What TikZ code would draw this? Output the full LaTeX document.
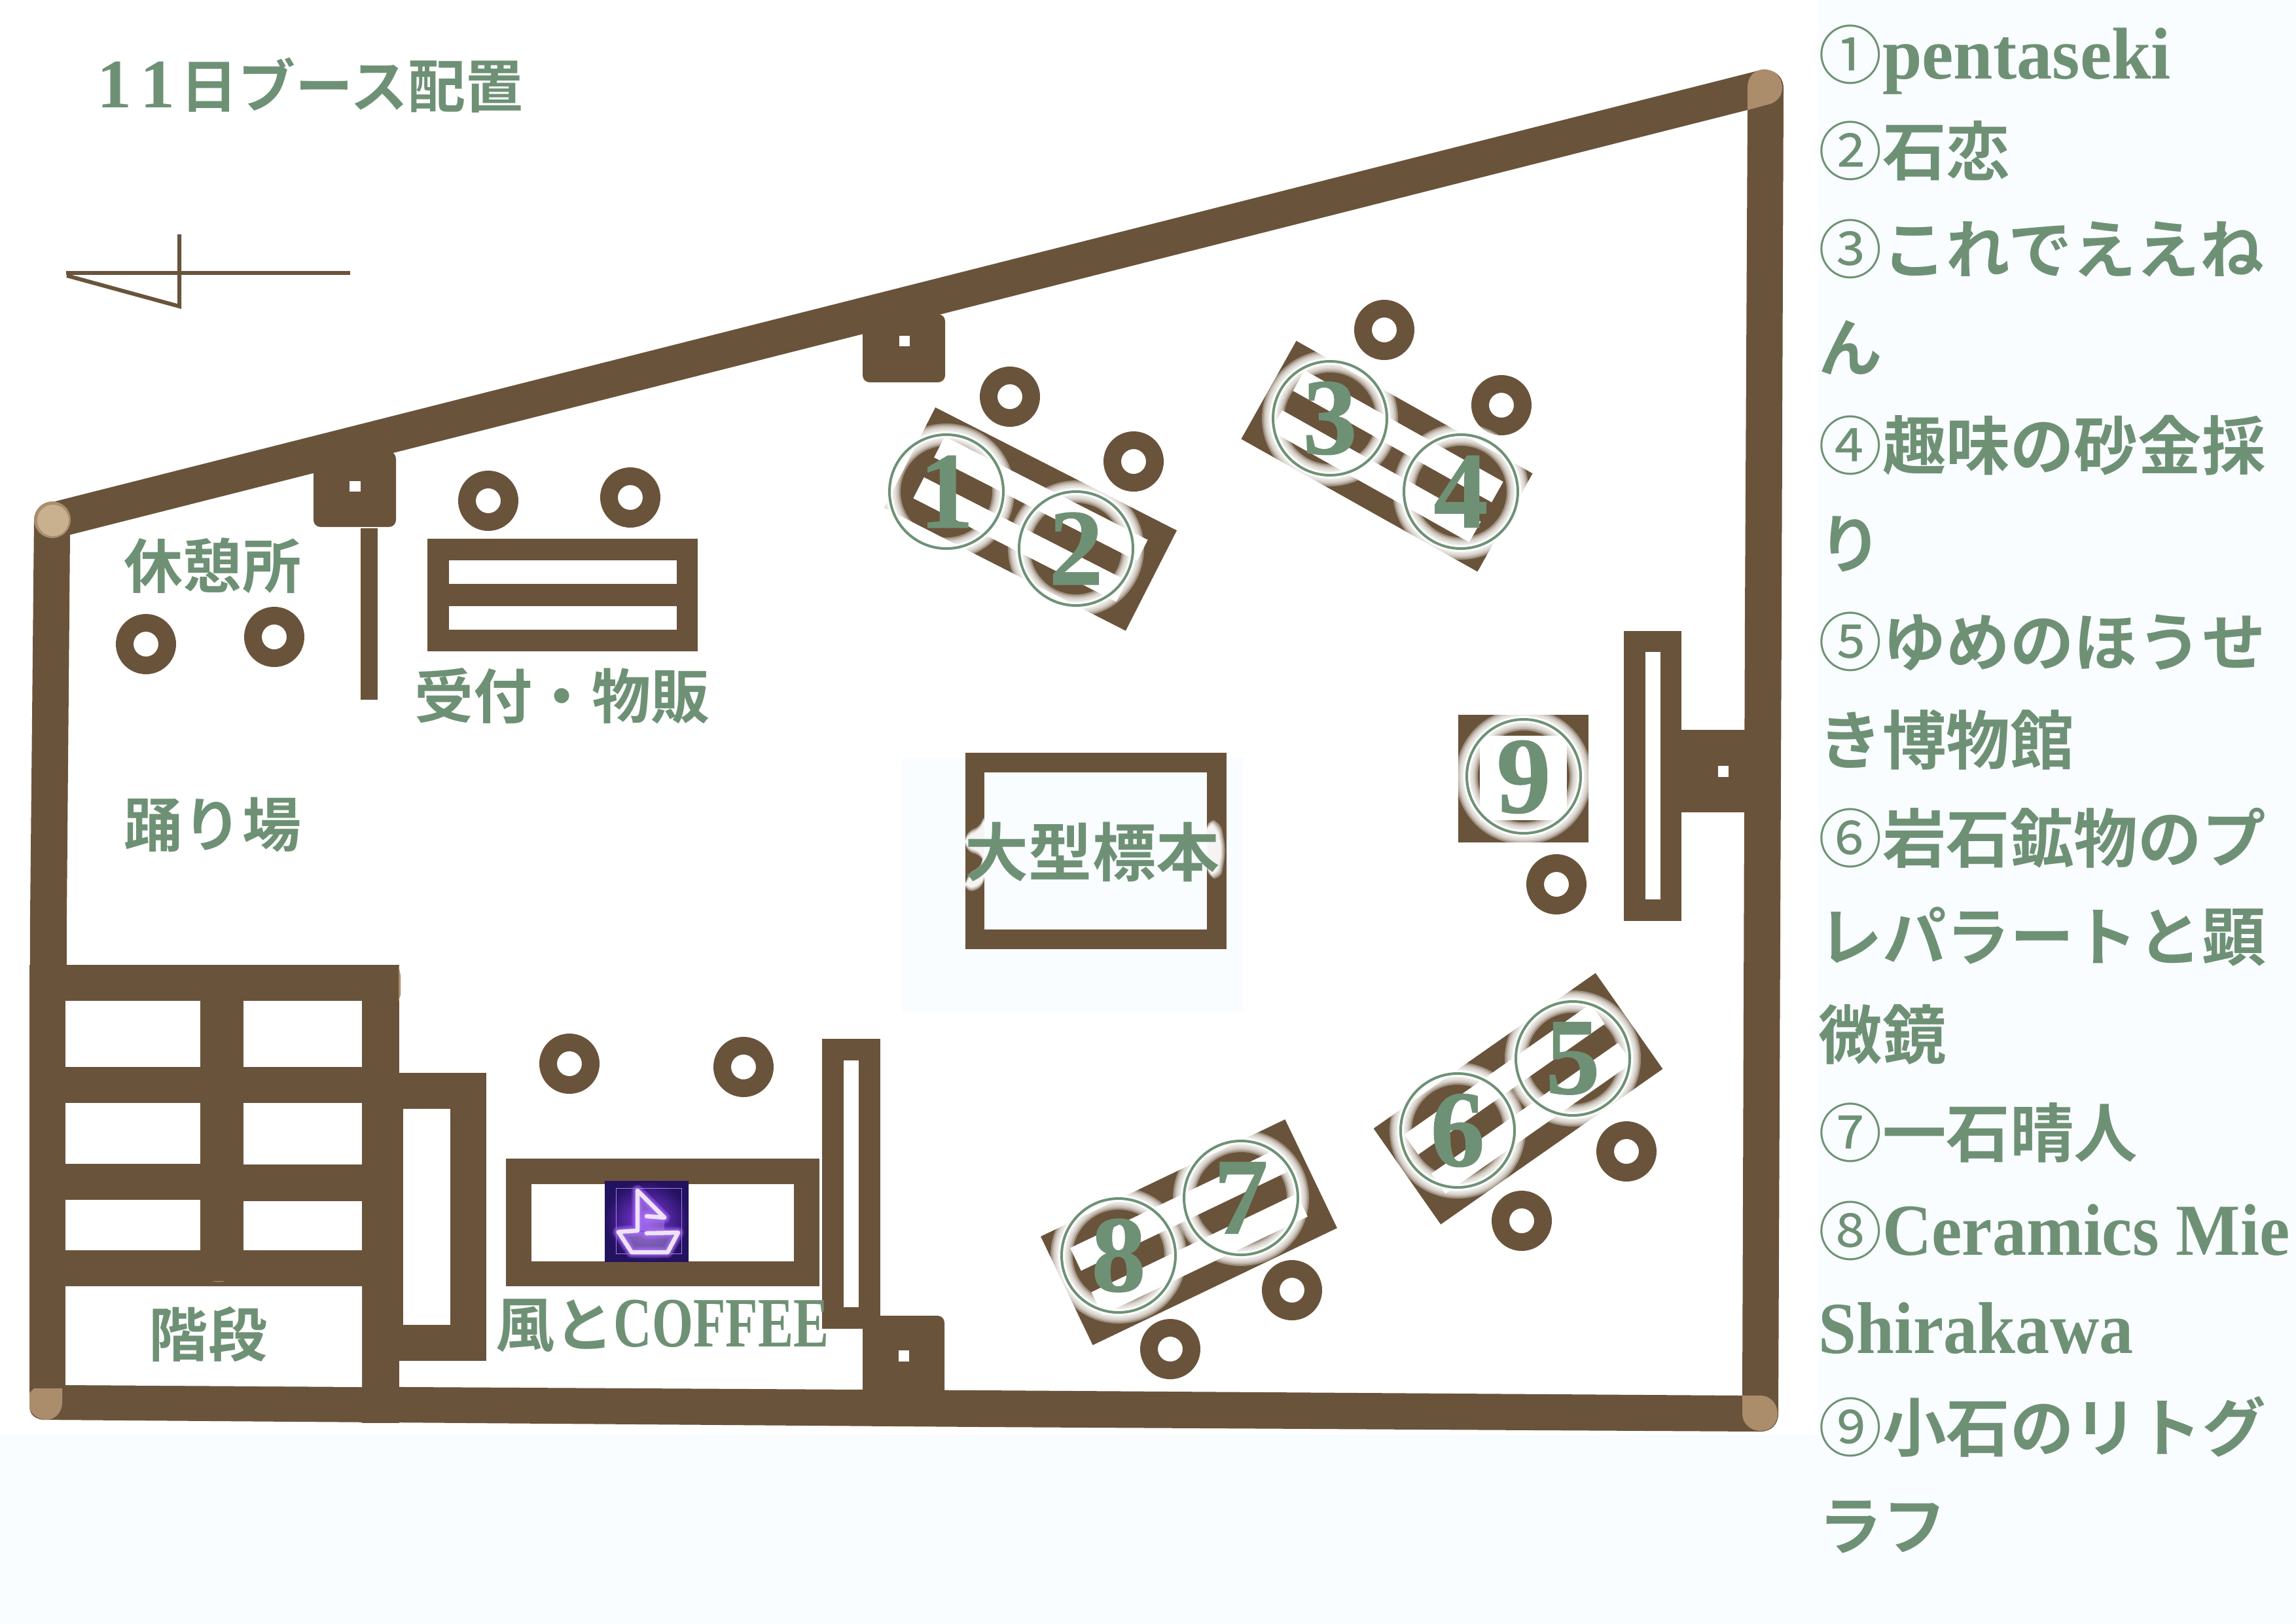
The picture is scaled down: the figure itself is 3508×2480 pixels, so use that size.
\documentclass[tikz,border=0pt]{standalone}
\usepackage{fontspec}
\setmainfont{Liberation Serif}
\newfontfamily\cjk{Noto Sans CJK JP}[BoldFont={* Bold}]
\newfontfamily\cjkm{Noto Sans CJK JP}
\newfontfamily\lat{Liberation Serif}[BoldFont={* Bold}]
\newfontfamily\latd{Liberation Serif}[BoldFont={* Bold},BoldFeatures={FakeBold=0.8}]
\newfontfamily\lata{Liberation Serif}[BoldFont={* Bold},FakeStretch=.97]
\newfontfamily\latn{Liberation Serif}[BoldFont={* Bold},FakeStretch=.93]
\newfontfamily\latc{Liberation Serif}[BoldFont={* Bold},FakeStretch=.75]
\definecolor{wall}{HTML}{6A533B}
\definecolor{tanA}{HTML}{AB8D6C}
\definecolor{tanB}{HTML}{C9B08E}
\definecolor{sage}{HTML}{6E9175}
\definecolor{tint}{HTML}{FAFDFF}
\definecolor{logoIn}{RGB}{135,60,235}
\definecolor{logoOut}{RGB}{35,18,95}
\definecolor{logoGlow}{RGB}{175,110,255}
\definecolor{logoLine}{RGB}{238,228,245}
\definecolor{logoFrame}{RGB}{170,120,240}
% 1px = 0.01cm = 0.28453pt
\newcommand{\pxfont}[1]{\fontsize{\the\dimexpr #1\dimexpr 0.28453pt\relax\relax}{\the\dimexpr #1\dimexpr 0.34pt\relax\relax}\selectfont}
\tikzset{
  x=0.01cm,y=-0.01cm,
  lbl/.style={text=sage,inner sep=0pt,font=\cjk\bfseries\pxfont{90}},
  listline/.style={text=sage,inner sep=0pt,anchor=base west,font=\cjk\bfseries\pxfont{97.5}},
  marker/.style={text=sage,inner sep=0pt,font=\latd\bfseries\pxfont{166}}
}
\newcommand{\stool}[2]{\fill[wall,even odd rule] (#1,#2) circle[radius=46] (#1,#2) circle[radius=19];}
% centre x, centre y, canvas rotation, y stretch
\newcommand{\booth}[4]{\begin{scope}[shift={(#1,#2)},rotate=#3,yscale=#4]
  \fill[wall] (-207,-86) rectangle (207,86);
  \fill[white] (-174,-53) rectangle (174,-17);
  \fill[white] (-174,17) rectangle (174,53);
\end{scope}}
\newcommand{\glowring}[2]{
  \foreach \w in {34,29,24,19,14}{\draw[white,opacity=.35,line width=\w*0.01cm] (#1,#2) circle[radius=87];}
  \draw[white,line width=0.1cm] (#1,#2) circle[radius=87];
  \draw[sage,line width=0.04cm] (#1,#2) circle[radius=87];
}
\begin{document}
\begin{tikzpicture}
\useasboundingbox (0,0) rectangle (3508,2480);
\fill[white] (0,0) rectangle (3508,2480);
% tinted panels
\fill[tint] (2777,0) rectangle (3508,2480);
\fill[tint] (0,2192) rectangle (3508,2480);
\fill[tint] (1378,1157) rectangle (1900,1547);
% north sign
\draw[wall,line width=0.06cm] (101,417) -- (535,417);
\draw[wall,line width=0.06cm,miter limit=10] (102,421) -- (274,468) -- (274,358);
% title
\node[lbl,font=\cjk\bfseries\pxfont{88}] (title) at (474,130) {{\lat\bfseries\pxfont{106}1\hspace{.12em}1\hspace{.08em}}日ブース配置};
% walls (outer outline, inner outline)
\fill[wall,even odd rule]
  (52,795) .. controls (52,780) and (65,770) .. (80,767) -- (2690,107)
  .. controls (2708,104) and (2725,115) .. (2725,135) -- (2722,940) -- (2717,2160)
  .. controls (2717,2176) and (2706,2187) .. (2690,2187) -- (1500,2180) -- (65,2169)
  .. controls (52,2167) and (45,2160) .. (45,2148) -- (46,1400) -- cycle
  (107,817) -- (2670,168) -- (2666,940) -- (2662,2132) -- (1500,2124) -- (100,2116) -- (102,1400) -- cycle;
\fill[wall] (553,2100) rectangle (610,2174);
% corner posts
\fill[tanA] (80,794) circle[radius=28];
\fill[tanB] (81,795) circle[radius=24];
\fill[tanA] (2670,168) -- (2670,133) .. controls (2670,118) and (2680,106) .. (2695,106)
  .. controls (2712,106) and (2723,118) .. (2723,135) .. controls (2723,148) and (2712,158) .. (2700,160) -- cycle;
\fill[tanA] (2662,2132) -- (2690,2132) .. controls (2705,2132) and (2716,2145) .. (2716,2160)
  .. controls (2716,2175) and (2705,2186) .. (2690,2186) .. controls (2675,2186) and (2662,2175) .. (2662,2160) -- cycle;
\fill[tanA] (45,2128) -- (52,2121) -- (95,2121) -- (95,2143) .. controls (95,2158) and (84,2169) .. (70,2169)
  .. controls (58,2169) and (45,2158) .. (45,2150) -- cycle;
% pillars
\fill[wall,rounded corners=3] (479,690) rectangle (605,805);
\fill[white] (534,735) rectangle (551,751);
\fill[wall,rounded corners=3] (1318,480) rectangle (1444,584);
\fill[white] (1374,513) rectangle (1390,529);
\fill[wall] (2568,1115) rectangle (2680,1241);
\fill[white] (2625,1170) rectangle (2641,1187);
\fill[wall,rounded corners=3] (1318,2010) rectangle (1443,2140);
\fill[white] (1373,2063) rectangle (1389,2080);
% partitions
\fill[wall] (551,807) rectangle (577,1069);
\fill[wall] (2481,964) rectangle (2569,1407);
\fill[white] (2514,996) rectangle (2537,1374);
\fill[wall] (1256,1587) rectangle (1345,2030);
\fill[white] (1289,1620) rectangle (1312,1997);
% stairs block
\fill[wall] (45,1474) rectangle (610,2120);
\fill[tanA] (609,1474) -- (612,1490) -- (612,1520) -- (609,1530) -- cycle;
\fill[white] (100,1529) rectangle (306,1630);
\fill[white] (372,1529) rectangle (553,1630);
\fill[white] (100,1685) rectangle (306,1778);
\fill[white] (372,1685) rectangle (553,1779);
\fill[white] (100,1833) rectangle (306,1910);
\fill[white] (372,1835) rectangle (553,1910);
\fill[white] (100,1965) -- (553,1965) -- (553,2119) -- (100,2116) -- cycle;
\fill[tanA] (324,1957) .. controls (330,1959) and (338,1959) .. (344,1957) -- cycle;
\fill[wall] (612,1639) rectangle (743,2079);
\fill[white] (616,1694) rectangle (688,2024);
\fill[wall] (610,1639) rectangle (616,2079);
% reception table
\fill[wall] (653,823) rectangle (1066,995);
\fill[white] (686,856) rectangle (1034,892);
\fill[white] (686,926) rectangle (1034,962);
% cafe table
\fill[wall] (773,1770) rectangle (1252,1965);
\fill[white] (812,1809) rectangle (1213,1927);
% logo
\begin{scope}
  \clip (924,1804) rectangle (1052,1927);
  \shade[inner color=logoIn,outer color=logoOut] (924,1804) rectangle (1052,1927);
  \fill[white,opacity=.22] (974,1819) -- (1015,1860) -- (1015,1880) -- (974,1880) -- cycle;
  \fill[white,opacity=.25] (945,1882) -- (965,1913) -- (1020,1913) -- (1036,1883) -- cycle;
  \draw[logoFrame,line width=0.01cm] (941,1815) rectangle (1041,1915);
  \foreach \w/\o in {18/.25,14/.3,10/.45}{
    \draw[logoGlow,opacity=\o,line width=\w*0.01cm,line join=round,line cap=round]
      (974,1819) -- (974,1880) -- (945,1882) -- (965,1913) -- (1020,1913) -- (1036,1883) -- (988,1884)
      (974,1819) -- (1015,1860) -- (988,1858);
  }
  \draw[logoLine,line width=0.065cm,line join=round,line cap=round]
      (974,1819) -- (974,1880) -- (945,1882) -- (965,1913) -- (1020,1913) -- (1036,1883) -- (988,1884)
      (974,1819) -- (1015,1860) -- (988,1858);
\end{scope}
% specimen box
\fill[wall] (1475,1150) rectangle (1874,1450);
\fill[tint] (1504,1180) rectangle (1844,1420);
% booths
\booth{1574.5}{793}{-27}{1}
\booth{2119}{697}{-29.3}{1}
\booth{2319.5}{1678.5}{35}{1.04}
\booth{1816.5}{1882.5}{25.6}{1.07}
\fill[wall] (2228,1092) rectangle (2427,1287);
\fill[white] (2261,1124) rectangle (2394,1253);
% stools
\stool{223}{984}\stool{419}{973}\stool{746}{765}\stool{963}{760}
\stool{1543}{606}\stool{1732}{705}\stool{2115}{504}\stool{2294}{619}
\stool{1788}{2061}\stool{1974}{1971}\stool{2325}{1865}\stool{2485}{1759}
\stool{870}{1625}\stool{1136}{1630}\stool{2378}{1351}
% booth numbers
\glowring{1446}{751}\node[marker] (m1) at (1446,751) {1};
\glowring{1644}{838}\node[marker] (m2) at (1644,838) {2};
\glowring{2032}{639}\node[marker] (m3) at (2032,639) {3};
\glowring{2232}{751}\node[marker] (m4) at (2232,751) {4};
\glowring{2403}{1617}\node[marker] (m5) at (2403,1617) {5};
\glowring{2227}{1727}\node[marker] (m6) at (2227,1727) {6};
\glowring{1896}{1830}\node[marker] (m7) at (1896,1830) {7};
\glowring{1709}{1918}\node[marker] (m8) at (1709,1918) {8};
\glowring{2328}{1186}\node[marker] (m9) at (2328,1187) {9};
% glow of the specimen label over the side bars
\foreach \d/\o in {7/.35,5/.4,3/.5,1/.7}{
  \fill[white,opacity=\o,rounded corners=4] (1504,1248-\d) -- (1498,1272-\d) -- (1475,1276-\d) -- (1475,1295+\d) -- (1500,1298+\d) -- (1504,1320) -- (1490,1335-\d) -- (1475,1345-\d) -- (1475,1358+\d) -- (1504,1348+\d) -- cycle;
  \fill[white,opacity=\o,rounded corners=4] (1844,1258-\d) -- (1858+\d,1262-\d) -- (1866+\d,1300) -- (1858+\d,1338+\d) -- (1844,1332+\d) -- cycle;
}
% room labels
\node[lbl] (rest) at (325,864) {休憩所};
\node[lbl] (recv) at (859,1063) {受付・物販};
\node[lbl] (dance) at (325,1260) {踊り場};
\node[lbl,font=\cjk\bfseries\pxfont{97}] (spec) at (1669,1302) {大型標本};
\node[lbl] (stairs) at (318,2038) {階段};
\node[lbl] (cafe) at (1012,2025) {風と{\latc\bfseries\pxfont{108}COFFEE}};
% list
\newcommand{\cn}[1]{{\cjkm\mdseries #1}}
\node[listline] (l1) at (2778,120) {\cn{①}{\lata\bfseries\pxfont{112}pentaseki}};
\node[listline] (l2) at (2778,267) {\cn{②}石恋};
\node[listline] (l3) at (2778,417) {\cn{③}これでええね};
\node[listline] (l4) at (2778,567) {ん};
\node[listline] (l5) at (2778,717) {\cn{④}趣味の砂金採};
\node[listline] (l6) at (2778,867) {り};
\node[listline] (l7) at (2778,1017) {\cn{⑤}ゆめのほうせ};
\node[listline] (l8) at (2778,1167) {き博物館};
\node[listline] (l9) at (2778,1317) {\cn{⑥}岩石鉱物のプ};
\node[listline] (l10) at (2778,1467) {レパラートと顕};
\node[listline] (l11) at (2778,1617) {微鏡};
\node[listline] (l12) at (2778,1767) {\cn{⑦}一石晴人};
\node[listline] (l13) at (2778,1917) {\cn{⑧}{\latn\bfseries\pxfont{112}Ceramics Mie}};
\node[listline] (l14) at (2778,2067) {{\latn\bfseries\pxfont{112}Shirakawa}};
\node[listline] (l15) at (2778,2217) {\cn{⑨}小石のリトグ};
\node[listline] (l16) at (2778,2367) {ラフ};
\end{tikzpicture}
\end{document}
